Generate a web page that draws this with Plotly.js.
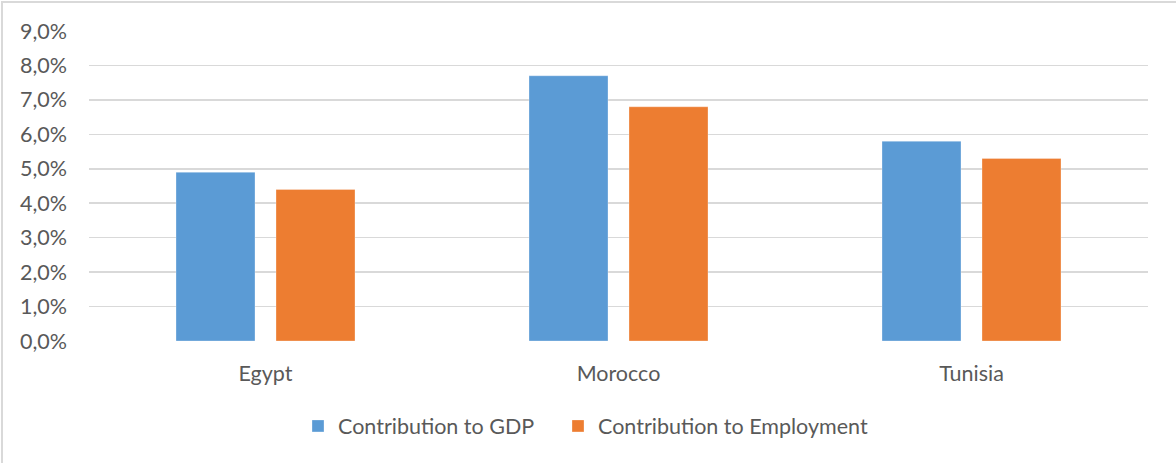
<!DOCTYPE html>
<html>
<head>
<meta charset="utf-8">
<script src="https://cdn.plot.ly/plotly-3.0.1.min.js"></script>
<style>
  html, body { margin: 0; padding: 0; background: #fff; }
  #wrap { position: relative; width: 1176px; height: 463px; overflow: hidden; }
  #chart { width: 1176px; height: 463px; }
  #frame { position: absolute; left: 1px; top: 1px; width: 1200px; height: 500px;
           border-left: 2px solid #d9d9d9; border-top: 2px solid #d9d9d9; pointer-events: none; }
</style>
</head>
<body>
<div id="wrap">
  <div id="chart"></div>
  <div id="frame"></div>
</div>
<script>
const categories = ["Egypt", "Morocco", "Tunisia"];
const gdpValues = [0.049, 0.077, 0.058];
const employmentValues = [0.044, 0.068, 0.053];
const seriesNames = ["Contribution to GDP", "Contribution to Employment"];
const yTickValues = [0, 0.01, 0.02, 0.03, 0.04, 0.05, 0.06, 0.07, 0.08, 0.09];
const yTickLabels = ["0,0%", "1,0%", "2,0%", "3,0%", "4,0%", "5,0%", "6,0%", "7,0%", "8,0%", "9,0%"];

const FONT = "Lato, 'Open Sans', sans-serif";
const TXT = "#595959";
const FS = 21.5;

const traces = [
  {
    type: "bar", name: seriesNames[0], x: categories, y: gdpValues, legend: "legend",
    marker: { color: "#5B9BD5", line: { color: "rgba(255,255,255,0.3)", width: 1 } },
    hoverinfo: "skip"
  },
  {
    type: "bar", name: seriesNames[1], x: categories, y: employmentValues, legend: "legend2",
    marker: { color: "#ED7D31", line: { color: "rgba(255,255,255,0.3)", width: 1 } },
    hoverinfo: "skip"
  }
];

function legendAt(xpx) {
  return {
    orientation: "h", xref: "container", yref: "container",
    x: xpx / 1176, xanchor: "left", y: 0.08, yanchor: "middle",
    font: { family: FONT, color: TXT, size: FS },
    itemwidth: 30, bgcolor: "rgba(0,0,0,0)"
  };
}

const layout = {
  width: 1176, height: 463,
  margin: { l: 89, r: 28, t: 31, b: 122 },
  paper_bgcolor: "rgba(0,0,0,0)", plot_bgcolor: "rgba(0,0,0,0)",
  barmode: "group", bargap: 0.4334, bargroupgap: 0.21,
  font: { family: FONT, color: TXT, size: FS },
  showlegend: true,
  legend: legendAt(298),
  legend2: legendAt(558),
  xaxis: {
    showgrid: false, zeroline: false, showline: false, ticks: "",
    tickfont: { family: FONT, color: TXT, size: FS },
    ticklabelstandoff: 17, fixedrange: true
  },
  yaxis: {
    range: [0, 0.09], tickvals: yTickValues, ticktext: yTickLabels,
    showgrid: true, gridcolor: "#d9d9d9", gridwidth: 1.5,
    zeroline: false, showline: false, ticks: "",
    tickfont: { family: FONT, color: TXT, size: FS },
    ticklabelstandoff: 21, fixedrange: true
  }
};

Plotly.newPlot("chart", traces, layout, { displayModeBar: false, staticPlot: true });
</script>
</body>
</html>
